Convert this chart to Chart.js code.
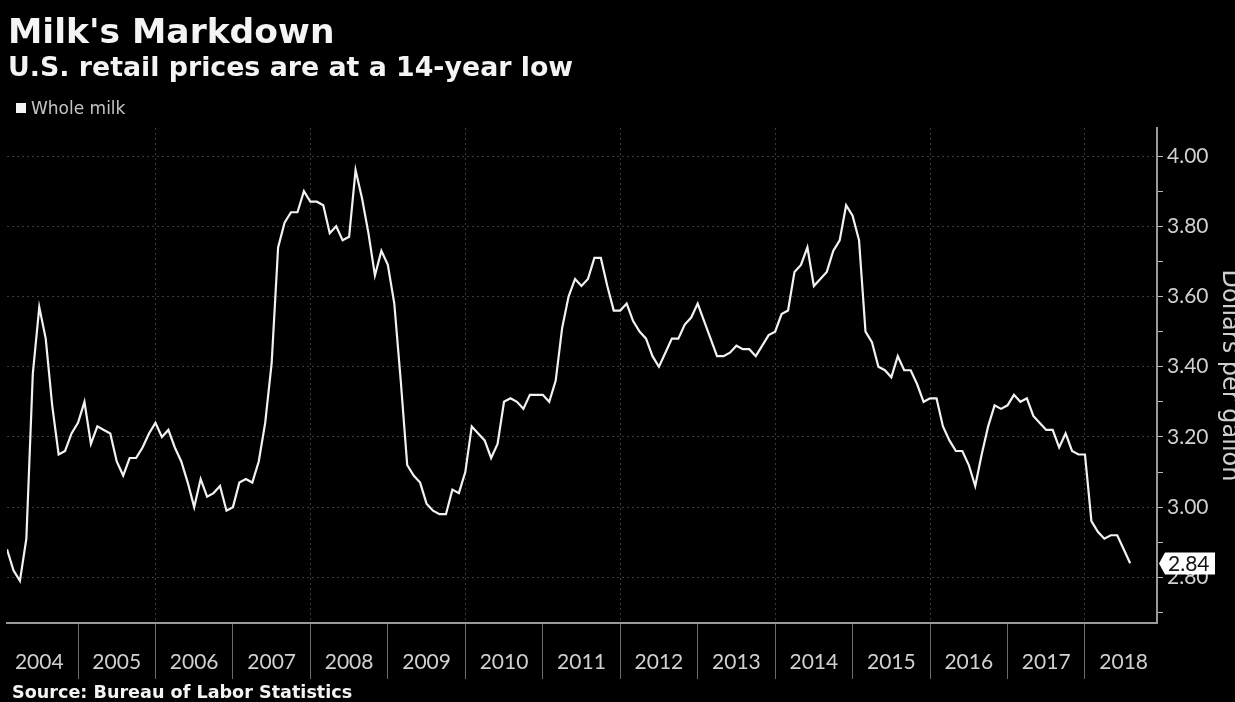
<!DOCTYPE html>
<html>
<head>
<meta charset="utf-8">
<title>Milk's Markdown</title>
<script src="https://cdn.jsdelivr.net/npm/chart.js@4.4.1/dist/chart.umd.min.js"></script>
<style>
    html, body { margin: 0; padding: 0; background: #000; }
    body { width: 1235px; height: 702px; overflow: hidden; }
    canvas { display: block; }
</style>
</head>
<body>
<canvas id="milkChart" width="1235" height="702"></canvas>
<script>
/* ========================================
   Milk's Markdown - US retail whole milk price
   ======================================== */

// monthly series, Feb 2004 .. Aug 2018 (dollars per gallon)
const startYear = 2004;
const startMonth = 2;

const yearLabels = ['2004', '2005', '2006', '2007', '2008', '2009', '2010', '2011',
    '2012', '2013', '2014', '2015', '2016', '2017', '2018'];

const wholeMilk = [
    2.88, 2.82, 2.79, 2.91, 3.38, 3.57, 3.48, 3.29, 3.15, 3.16, 3.21,          // 2004
    3.24, 3.30, 3.18, 3.23, 3.22, 3.21, 3.13, 3.09, 3.14, 3.14, 3.17, 3.21,    // 2005
    3.24, 3.20, 3.22, 3.17, 3.13, 3.07, 3.00, 3.08, 3.03, 3.04, 3.06, 2.99,    // 2006
    3.00, 3.07, 3.08, 3.07, 3.13, 3.24, 3.41, 3.74, 3.81, 3.84, 3.84, 3.90,    // 2007
    3.87, 3.87, 3.86, 3.78, 3.80, 3.76, 3.77, 3.96, 3.88, 3.78, 3.66, 3.73,    // 2008
    3.69, 3.58, 3.36, 3.12, 3.09, 3.07, 3.01, 2.99, 2.98, 2.98, 3.05, 3.04,    // 2009
    3.10, 3.23, 3.21, 3.19, 3.14, 3.18, 3.30, 3.31, 3.30, 3.28, 3.32, 3.32,    // 2010
    3.32, 3.30, 3.36, 3.51, 3.60, 3.65, 3.63, 3.65, 3.71, 3.71, 3.63, 3.56,    // 2011
    3.56, 3.58, 3.53, 3.50, 3.48, 3.43, 3.40, 3.44, 3.48, 3.48, 3.52, 3.54,    // 2012
    3.58, 3.53, 3.48, 3.43, 3.43, 3.44, 3.46, 3.45, 3.45, 3.43, 3.46, 3.49,    // 2013
    3.50, 3.55, 3.56, 3.67, 3.69, 3.74, 3.63, 3.65, 3.67, 3.73, 3.76, 3.86,    // 2014
    3.83, 3.76, 3.50, 3.47, 3.40, 3.39, 3.37, 3.43, 3.39, 3.39, 3.35, 3.30,    // 2015
    3.31, 3.31, 3.23, 3.19, 3.16, 3.16, 3.12, 3.06, 3.15, 3.23, 3.29, 3.28,    // 2016
    3.29, 3.32, 3.30, 3.31, 3.26, 3.24, 3.22, 3.22, 3.17, 3.21, 3.16, 3.15,    // 2017
    3.15, 2.96, 2.93, 2.91, 2.92, 2.92, 2.88, 2.84                             // 2018
];

const seriesName = 'Whole milk';
const axisTitle = 'Dollars per gallon';

const TEXT = '#d0d0d0';
const GRID = '#3a3a3a';
const AXIS = '#9a9a9a';

// Title, subtitle, legend and source line
const headerPlugin = {
    id: 'header',
    afterDraw(chart) {
        const ctx = chart.ctx;
        ctx.save();
        ctx.fillStyle = '#f4f4f4';
        ctx.textBaseline = 'alphabetic';
        ctx.font = 'bold 34.5px "DejaVu Sans"';
        ctx.fillText("Milk's Markdown", 8, 43);
        ctx.font = 'bold 26.8px "DejaVu Sans"';
        ctx.fillText('U.S. retail prices are at a 14-year low', 8, 76);

        // legend
        ctx.fillStyle = '#f4f4f4';
        ctx.fillRect(16, 103, 10, 10);
        ctx.fillStyle = '#c4c4c4';
        ctx.font = '17px "DejaVu Sans"';
        ctx.fillText(seriesName, 31, 114);

        // source
        ctx.fillStyle = '#f4f4f4';
        ctx.font = 'bold 17.6px "DejaVu Sans"';
        ctx.fillText('Source: Bureau of Labor Statistics', 12, 698);
        ctx.restore();
    }
};

// Tag with the latest value on the right axis
const lastValuePlugin = {
    id: 'lastValue',
    afterDraw(chart) {
        const ctx = chart.ctx;
        const y = chart.scales.y;
        const v = wholeMilk[wholeMilk.length - 1];
        const py = Math.round(y.getPixelForValue(v)) + 0.5;
        const x0 = chart.chartArea.right + 2;
        const h = 22, w = 50, tip = 6;
        ctx.save();
        ctx.beginPath();
        ctx.moveTo(x0, py);
        ctx.lineTo(x0 + tip, py - h / 2);
        ctx.lineTo(x0 + tip + w, py - h / 2);
        ctx.lineTo(x0 + tip + w, py + h / 2);
        ctx.lineTo(x0 + tip, py + h / 2);
        ctx.closePath();
        ctx.fillStyle = '#ffffff';
        ctx.fill();
        ctx.fillStyle = '#111';
        ctx.font = '21px Lato';
        ctx.textAlign = 'left';
        ctx.textBaseline = 'middle';
        ctx.fillText(v.toFixed(2), x0 + 9, py + 1);
        ctx.restore();
    }
};

function isMajor(value) {
    return Math.round(value * 10) % 2 === 0;
}

const points = wholeMilk.map((v, i) => ({ x: startYear + (startMonth - 1 + i) / 12, y: v }));

new Chart(document.getElementById('milkChart'), {
    type: 'line',
    data: {
        datasets: [{
            label: seriesName,
            data: points,
            borderColor: '#f2f2f2',
            borderWidth: 2.2,
            pointRadius: 0,
            tension: 0
        }]
    },
    options: {
        animation: false,
        responsive: false,
        layout: { padding: { left: 7, top: 128, right: 0, bottom: 0 } },
        plugins: {
            legend: { display: false },
            tooltip: { enabled: false }
        },
        scales: {
            x: {
                type: 'linear',
                position: 'bottom',
                min: startYear + (startMonth - 1) / 12,
                max: 2018.93,
                afterBuildTicks: scale => {
                    scale.ticks = yearLabels.map(y => ({ value: Number(y) + 0.5 }));
                },
                afterFit: scale => { scale.height = 79; },
                grid: {
                    offset: true,
                    color: c => (c.index % 2 === 0 ? GRID : 'rgba(0,0,0,0)'),
                    lineWidth: 1,
                    tickColor: '#6a6a6a',
                    tickLength: 56,
                    tickWidth: 1
                },
                border: { display: true, color: AXIS, width: 2, dash: [2, 3] },
                ticks: {
                    autoSkip: false,
                    maxRotation: 0,
                    padding: -29,
                    color: TEXT,
                    font: { family: 'Lato', size: 21 },
                    callback: (value, index) => yearLabels[index]
                }
            },
            y: {
                type: 'linear',
                position: 'right',
                min: 2.67,
                max: 4.08,
                afterFit: scale => { scale.width = 78; },
                grid: {
                    color: c => (c.tick && isMajor(c.tick.value) ? GRID : 'rgba(0,0,0,0)'),
                    lineWidth: 1,
                    tickColor: '#bdbdbd',
                    tickLength: 6
                },
                border: { display: true, color: AXIS, width: 2, dash: [2, 3] },
                ticks: {
                    stepSize: 0.1,
                    includeBounds: false,
                    padding: 4,
                    color: TEXT,
                    font: { family: 'Lato', size: 21 },
                    callback: value => (isMajor(value) ? value.toFixed(2) : '')
                },
                title: {
                    display: true,
                    text: axisTitle,
                    color: TEXT,
                    font: { family: 'DejaVu Sans', size: 24 },
                    padding: { top: -9, bottom: 0 }
                }
            }
        }
    },
    plugins: [headerPlugin, lastValuePlugin]
});
</script>
</body>
</html>
